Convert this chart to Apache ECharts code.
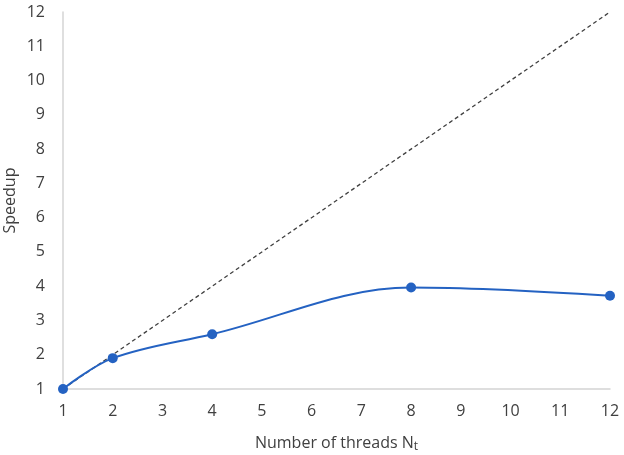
<!DOCTYPE html>
<html><head><meta charset="utf-8">
<script src="https://cdn.jsdelivr.net/npm/echarts@6/dist/echarts.min.js"></script>
<style>html,body{margin:0;padding:0;background:#fff}#c{width:624px;height:455px}</style>
</head><body><div id="c"></div>
<script>
const threads = [1, 2, 4, 8, 12];
const speedup = [1, 1.9, 2.6, 3.96, 3.72];
const ideal = [[1, 1], [12, 12]];
const ticks = [1,2,3,4,5,6,7,8,9,10,11,12];

const chart = echarts.init(document.getElementById('c'));
const font = '"Open Sans", "Noto Sans", sans-serif';
chart.setOption({
  animation: false,
  grid: { left: 63, right: 14, top: 12, bottom: 66, outerBoundsMode: 'none', containLabel: false },
  xAxis: {
    type: 'value', min: 1, max: 12, interval: 1,
    axisLine: { show: true, lineStyle: { color: '#d4d4d4', width: 1.5 } },
    axisTick: { show: false }, splitLine: { show: false },
    axisLabel: { color: '#404040', fontSize: 16, fontFamily: font, margin: 14 },
    name: '{a|Number of threads N}{s|t}', nameLocation: 'middle', nameGap: 44,
    nameMoveOverlap: false,
    nameTextStyle: { rich: {
      a: { color: '#404040', fontSize: 16, fontFamily: font },
      s: { color: '#404040', fontSize: 12, fontFamily: font, padding: [8, 0, 0, 0] }
    } }
  },
  yAxis: {
    type: 'value', min: 1, max: 12, interval: 1,
    axisLine: { show: true, lineStyle: { color: '#d4d4d4', width: 1.5 } },
    axisTick: { show: false }, splitLine: { show: false },
    axisLabel: { color: '#404040', fontSize: 16, fontFamily: font, margin: 18 },
    name: 'Speedup', nameLocation: 'middle', nameGap: 45, nameMoveOverlap: false,
    nameTextStyle: { color: '#404040', fontSize: 16, fontFamily: font }
  },
  series: [
    { type: 'line', data: ideal, symbol: 'none', z: 1,
      lineStyle: { color: '#404040', width: 1.3, type: [4, 3] } },
    { type: 'line', data: threads.map((t, i) => [t, speedup[i]]), smooth: 0.35,
      symbol: 'circle', symbolSize: 10, z: 2,
      itemStyle: { color: '#2462c2' },
      lineStyle: { color: '#2462c2', width: 2 } }
  ]
});
</script></body></html>
